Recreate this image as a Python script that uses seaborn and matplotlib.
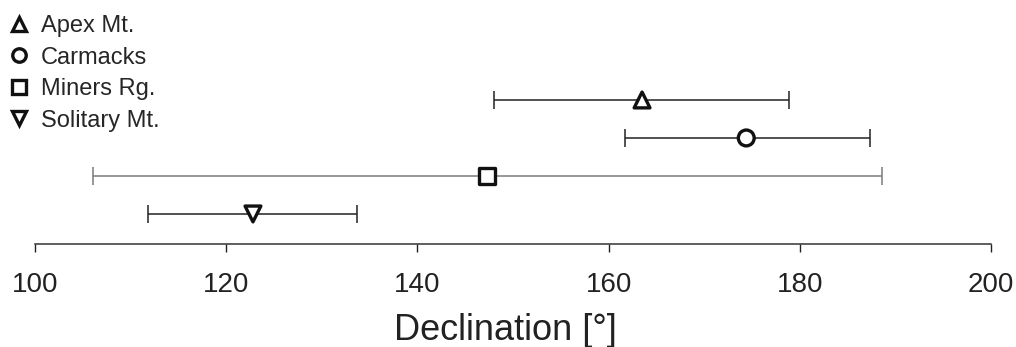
import matplotlib
matplotlib.use("Agg")
import matplotlib.pyplot as plt
import seaborn as sns
import pandas as pd

# Data
sites = ["Apex Mt.", "Carmacks", "Miners Rg.", "Solitary Mt."]
declination = [163.5, 174.4, 147.3, 122.8]
lower = [148.0, 161.7, 106.1, 111.8]
upper = [178.9, 187.3, 188.6, 133.7]
row = [3, 2, 1, 0]
markers = {"Apex Mt.": "^", "Carmacks": "o", "Miners Rg.": "s", "Solitary Mt.": "v"}
bar_colors = ["#222222", "#222222", "#7a7a7a", "#222222"]

df = pd.DataFrame({"site": sites, "dec": declination, "lo": lower, "hi": upper, "row": row})

sns.set_style("white")
plt.rcParams["font.family"] = ["Liberation Sans", "DejaVu Sans"]

fig = plt.figure(figsize=(10.16, 3.47), dpi=100)
ax = fig.add_axes([35 / 1016, (347 - 244) / 347, (991 - 35) / 1016, 244 / 347])

# error bars
for i, r in df.iterrows():
    ax.errorbar(r["dec"], r["row"],
                xerr=[[r["dec"] - r["lo"]], [r["hi"] - r["dec"]]],
                fmt="none", ecolor=bar_colors[i], elinewidth=1.1,
                capsize=6.5, capthick=1.1, zorder=1)

sns.scatterplot(data=df, x="dec", y="row", style="site", markers=markers,
                s=130, facecolor="white", edgecolor="#111111", linewidth=2.4,
                ax=ax, zorder=3, legend=True)

ax.set_xlim(100, 200)
ax.set_ylim(-0.79, 5.63)
ax.set_xticks([100, 120, 140, 160, 180, 200])
ax.set_yticks([])
ax.set_ylabel("")
ax.set_xlabel("Declination [°]", fontsize=26, labelpad=11, color="#222222")
ax.xaxis.label.set_x(0.4916)
ax.tick_params(axis="x", direction="out", length=6, width=1, pad=14,
               labelsize=20, colors="#222222", bottom=True)
for s in ["top", "right", "left"]:
    ax.spines[s].set_visible(False)
ax.spines["bottom"].set_color("#333333")
ax.spines["bottom"].set_linewidth(1.1)

leg = ax.legend(loc="upper left", bbox_to_anchor=(-0.005, 0.99), bbox_transform=fig.transFigure,
                frameon=False, fontsize=17, handletextpad=0.45, labelspacing=0.4,
                borderaxespad=0.1, handlelength=1.0, markerscale=0.85)
for h in leg.legend_handles:
    h.set_markerfacecolor("white")
    h.set_markeredgecolor("#111111")
    h.set_markeredgewidth(2.4)

fig.savefig("out.png", dpi=100)
